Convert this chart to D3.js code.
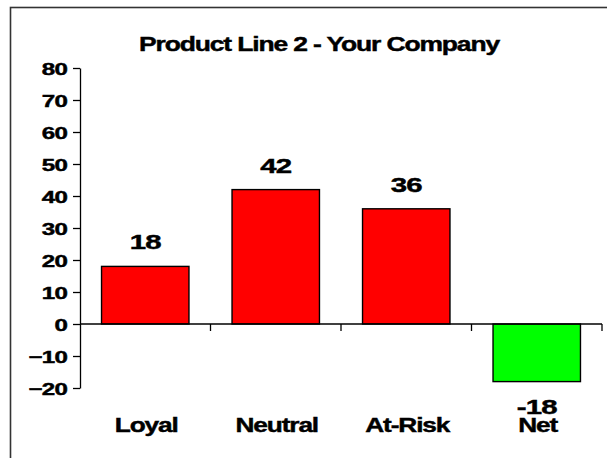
<!DOCTYPE html>
<html>
<head>
<meta charset="utf-8">
<script src="https://cdn.jsdelivr.net/npm/d3@7"></script>
<style>
  html, body { margin: 0; padding: 0; background: #fff; }
  svg { display: block; }
  text { font-family: "Liberation Sans", Arial, sans-serif; font-weight: bold; fill: #000; stroke: #000; stroke-width: 0.45; }
</style>
</head>
<body>
<svg id="chart" width="607" height="458"></svg>
<script>
// Segment shares for product line 2
const categories = ["Loyal", "Neutral", "At-Risk", "Net"];
const values = [18, 42, 36, -18];
const yTicks = [-20, -10, 0, 10, 20, 30, 40, 50, 60, 70, 80];
const chartTitle = "Product Line 2 - Your Company";

const svg = d3.select("#chart");
const W = 607, H = 458;

// Frame around the chart area (runs off the right/bottom edge)
svg.append("rect")
  .attr("x", 10.5).attr("y", 7.5)
  .attr("width", W + 50).attr("height", H + 50)
  .attr("fill", "#fff")
  .attr("stroke", "#333").attr("stroke-width", 1.6);

const plot = { left: 80, right: 602, top: 68, bottom: 388 };

const y = d3.scaleLinear().domain([-20, 80]).range([plot.bottom, plot.top]);
const x = d3.scaleBand().domain(categories).range([plot.left, plot.right])
  .paddingInner(0.33).paddingOuter(0.165);

// Wide, tightly packed text: render glyphs then stretch horizontally
function placeText(sel, tx, ty, sx) {
  sel.attr("transform", `translate(${tx},${ty}) scale(${sx},1)`);
}

// Title
const title = svg.append("text")
  .attr("text-anchor", "middle")
  .attr("font-size", 21)
  .attr("letter-spacing", -0.9)
  .text(chartTitle);
placeText(title, 319, 51, 1.26);

// Bars
svg.append("g").selectAll("rect")
  .data(values)
  .join("rect")
  .attr("x", (d, i) => x(categories[i]))
  .attr("width", x.bandwidth())
  .attr("y", d => y(Math.max(0, d)))
  .attr("height", d => Math.abs(y(d) - y(0)))
  .attr("fill", d => d < 0 ? "#00ff00" : "#ff0000")
  .attr("stroke", "#000")
  .attr("stroke-width", 1.4);

// Y axis
const yAxis = svg.append("g")
  .attr("transform", `translate(${plot.left},0)`)
  .call(d3.axisLeft(y).tickValues(yTicks).tickSize(7).tickSizeOuter(0).tickPadding(0));
yAxis.select(".domain").attr("stroke", "#000").attr("stroke-width", 1.3);
yAxis.selectAll(".tick line").attr("stroke", "#000").attr("stroke-width", 1.3);
yAxis.selectAll(".tick text").each(function(d) {
  const t = d3.select(this);
  t.attr("x", null).attr("dy", null)
    .attr("font-size", 17)
    .attr("text-anchor", "end")
    .attr("dominant-baseline", "central")
    .attr("font-family", null)
    .attr("fill", "#000")
    .attr("letter-spacing", -0.6);
  placeText(t, -13, 0, 1.42);
});

// X axis line at zero with ticks at category boundaries
const x0 = y(0);
const xAxis = svg.append("g");
xAxis.append("line")
  .attr("x1", plot.left).attr("x2", plot.right)
  .attr("y1", x0).attr("y2", x0)
  .attr("stroke", "#000").attr("stroke-width", 1.3);
const bounds = d3.range(1, categories.length + 1).map(i => plot.left + i * x.step());
xAxis.selectAll(".xt")
  .data(bounds)
  .join("line")
  .attr("class", "xt")
  .attr("x1", d => d).attr("x2", d => d)
  .attr("y1", x0).attr("y2", x0 + 7)
  .attr("stroke", "#000").attr("stroke-width", 1.3);

// Category labels
categories.forEach(c => {
  const t = svg.append("text")
    .attr("text-anchor", "middle")
    .attr("font-size", 21)
    .attr("letter-spacing", -0.9)
    .text(c);
  placeText(t, x(c) + x.bandwidth() / 2 + 1, 432, 1.25);
});

// Value labels
values.forEach((v, i) => {
  const cx = x(categories[i]) + x.bandwidth() / 2;
  const ty = v >= 0 ? y(v) - 17 : y(v) + 32;
  const t = svg.append("text")
    .attr("text-anchor", "middle")
    .attr("font-size", 21)
    .attr("letter-spacing", -0.6)
    .text(v);
  placeText(t, cx, ty, 1.4);
});
</script>
</body>
</html>
